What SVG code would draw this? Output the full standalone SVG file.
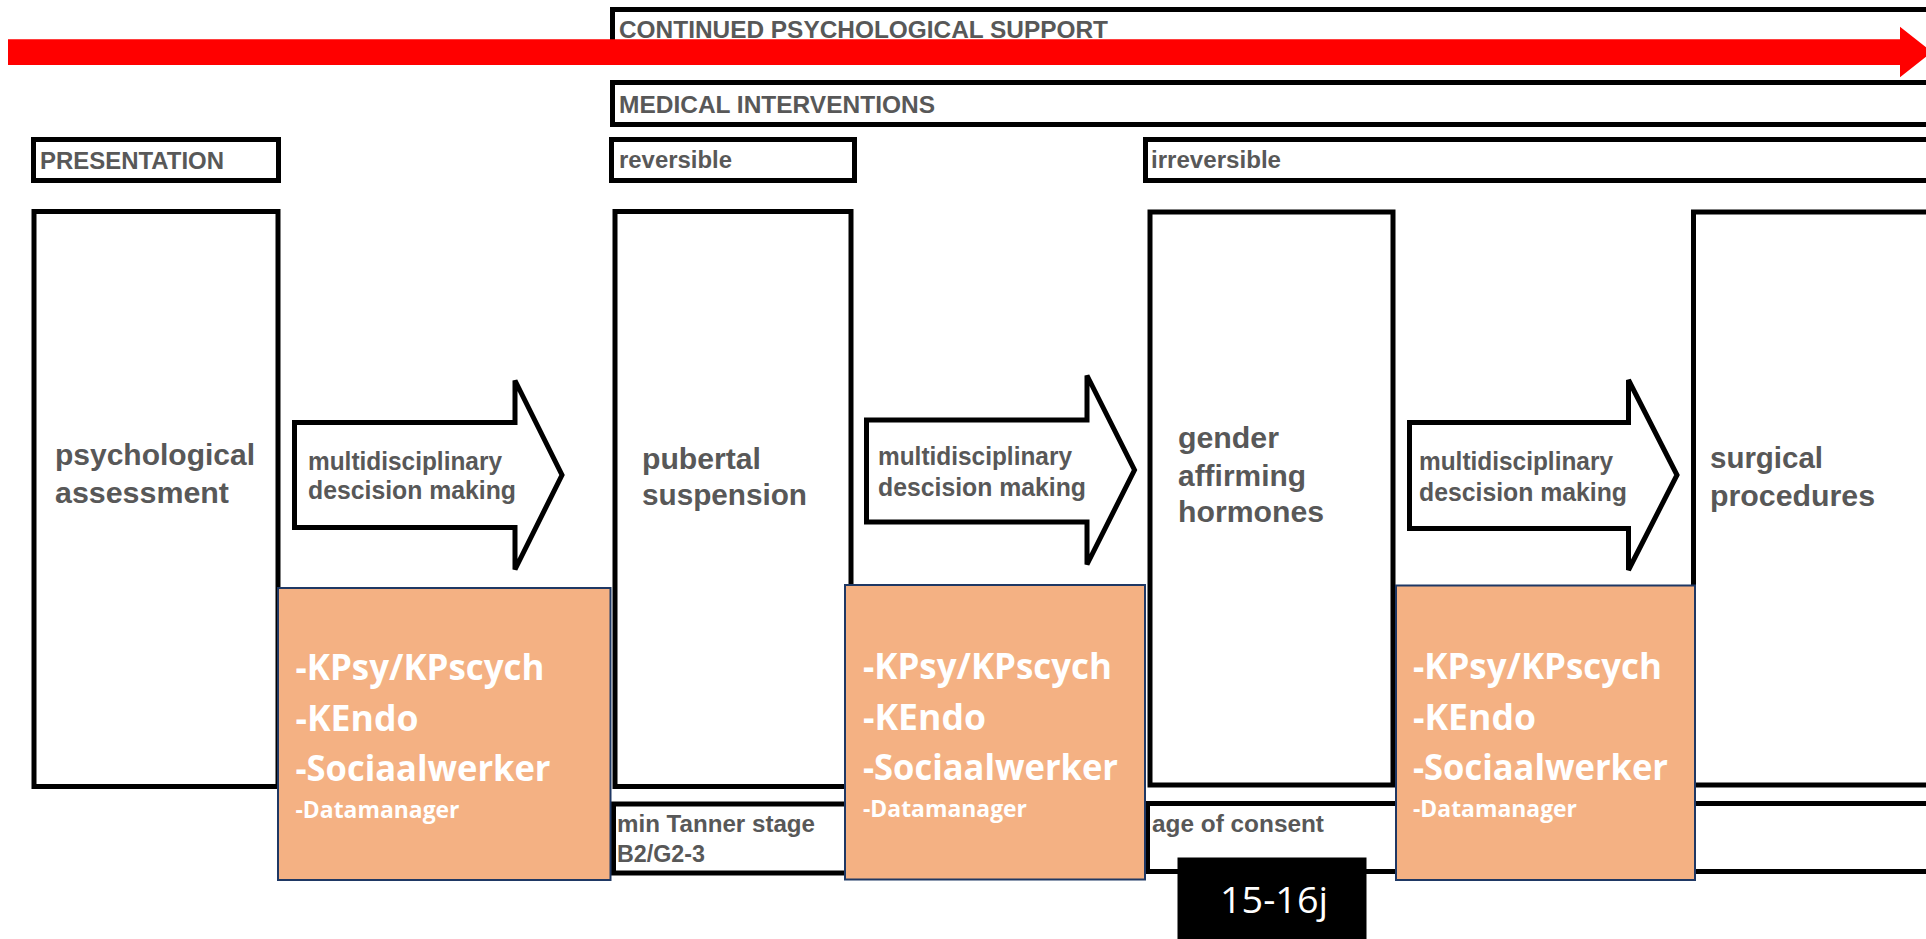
<svg xmlns="http://www.w3.org/2000/svg" width="1926" height="939" viewBox="0 0 1926 939">
<style>
.box{fill:#fff;stroke:#000;stroke-width:5}
.lbl{font-family:"Liberation Sans",Arial,Helvetica,sans-serif;font-weight:bold;fill:#585858}
.top{font-size:23px}
.big{font-size:30px}
.arr{font-size:25px}
.sm{font-size:23px}
.org{fill:#F4B183;stroke:#1F3864;stroke-width:2}
.ot{font-family:"Open Sans","Noto Sans",sans-serif;font-weight:bold;fill:#fff}
.ol{font-size:35px}
.od{font-size:24px}
.blk{fill:#000}
.age{font-family:"Open Sans","Noto Sans",sans-serif;font-size:36px;fill:#fff}
.barrow{fill:#fff;stroke:#000;stroke-width:5;stroke-linejoin:miter}
</style>

<g id="continued-support">
<rect class="box" x="612.5" y="9.5" width="1330" height="44"/>
<text class="lbl top" x="619" y="37.7" textLength="489" lengthAdjust="spacingAndGlyphs">CONTINUED PSYCHOLOGICAL SUPPORT</text>
</g>
<g id="medical-interventions">
<rect class="box" x="612.5" y="82.5" width="1330" height="42"/>
<text class="lbl top" x="619" y="112.7" textLength="316" lengthAdjust="spacingAndGlyphs">MEDICAL INTERVENTIONS</text>
</g>
<g id="presentation">
<rect class="box" x="33.5" y="139.5" width="245" height="41"/>
<text class="lbl top" x="40" y="169" textLength="184" lengthAdjust="spacingAndGlyphs">PRESENTATION</text>
</g>
<g id="reversible">
<rect class="box" x="611.5" y="139.5" width="243" height="41"/>
<text class="lbl top" x="619" y="168" textLength="113" lengthAdjust="spacingAndGlyphs">reversible</text>
</g>
<g id="irreversible">
<rect class="box" x="1145.5" y="139.5" width="800" height="41"/>
<text class="lbl top" x="1151" y="168" textLength="130" lengthAdjust="spacingAndGlyphs">irreversible</text>
</g>

<g id="psychological-assessment">
<rect class="box" x="34" y="211.5" width="244" height="575"/>
<text class="lbl big" x="55" y="464.5" textLength="200" lengthAdjust="spacingAndGlyphs">psychological</text>
<text class="lbl big" x="55" y="502.5" textLength="174" lengthAdjust="spacingAndGlyphs">assessment</text>
</g>
<g id="pubertal-suspension">
<rect class="box" x="615" y="211.5" width="236" height="575"/>
<text class="lbl big" x="642" y="469" textLength="119" lengthAdjust="spacingAndGlyphs">pubertal</text>
<text class="lbl big" x="642" y="505" textLength="165" lengthAdjust="spacingAndGlyphs">suspension</text>
</g>
<g id="gender-affirming-hormones">
<rect class="box" x="1150" y="212" width="243" height="573"/>
<text class="lbl big" x="1178" y="448" textLength="101" lengthAdjust="spacingAndGlyphs">gender</text>
<text class="lbl big" x="1178" y="486" textLength="128" lengthAdjust="spacingAndGlyphs">affirming</text>
<text class="lbl big" x="1178" y="522" textLength="146" lengthAdjust="spacingAndGlyphs">hormones</text>
</g>
<g id="surgical-procedures">
<rect class="box" x="1693.5" y="212" width="260" height="573"/>
<text class="lbl big" x="1710" y="468" textLength="113" lengthAdjust="spacingAndGlyphs">surgical</text>
<text class="lbl big" x="1710" y="505.7" textLength="165" lengthAdjust="spacingAndGlyphs">procedures</text>
</g>

<g id="connectors">
<polygon fill="#FF0000" points="8,39.3 1900,39.3 1900,26.7 1932,52 1900,77.3 1900,65 8,65"/>
<g id="decision-1">
<polygon class="barrow" points="294.5,422.5 515,422.5 515,380.5 562,475 515,569.5 515,527.5 294.5,527.5"/>
<text class="lbl arr" x="308" y="470" textLength="194" lengthAdjust="spacingAndGlyphs">multidisciplinary</text>
<text class="lbl arr" x="308" y="499.3" textLength="208" lengthAdjust="spacingAndGlyphs">descision making</text>
</g>
<g id="decision-2">
<polygon class="barrow" points="866.5,420 1087,420 1087,375.5 1134.5,470 1087,564.5 1087,522 866.5,522"/>
<text class="lbl arr" x="878" y="464.5" textLength="194" lengthAdjust="spacingAndGlyphs">multidisciplinary</text>
<text class="lbl arr" x="878" y="495.8" textLength="208" lengthAdjust="spacingAndGlyphs">descision making</text>
</g>
<g id="decision-3">
<polygon class="barrow" points="1409.5,422.5 1628.5,422.5 1628.5,380 1677,475 1628.5,570 1628.5,528.5 1409.5,528.5"/>
<text class="lbl arr" x="1419" y="469.5" textLength="194" lengthAdjust="spacingAndGlyphs">multidisciplinary</text>
<text class="lbl arr" x="1419" y="500.5" textLength="208" lengthAdjust="spacingAndGlyphs">descision making</text>
</g>
</g>

<g id="min-tanner-stage">
<rect class="box" x="613.5" y="804" width="238" height="69"/>
<text class="lbl sm" x="617" y="831.5" textLength="198" lengthAdjust="spacingAndGlyphs">min Tanner stage</text>
<text class="lbl sm" x="617" y="862" textLength="88" lengthAdjust="spacingAndGlyphs">B2/G2-3</text>
</g>
<g id="age-of-consent">
<rect class="box" x="1147.5" y="803.5" width="800" height="68"/>
<text class="lbl sm" x="1152" y="831.7" textLength="172" lengthAdjust="spacingAndGlyphs">age of consent</text>
</g>

<g id="team-1">
<rect class="org" x="278" y="588" width="332.5" height="292"/>
<text class="ot ol" x="295.5" y="680" textLength="249" lengthAdjust="spacingAndGlyphs">-KPsy/KPscych</text>
<text class="ot ol" x="295.5" y="731" textLength="123" lengthAdjust="spacingAndGlyphs">-KEndo</text>
<text class="ot ol" x="295.5" y="780.5" textLength="255" lengthAdjust="spacingAndGlyphs">-Sociaalwerker</text>
<text class="ot od" x="295.5" y="818" textLength="164" lengthAdjust="spacingAndGlyphs">-Datamanager</text>
</g>
<g id="team-2">
<rect class="org" x="845" y="585" width="300" height="294.5"/>
<text class="ot ol" x="863" y="679" textLength="249" lengthAdjust="spacingAndGlyphs">-KPsy/KPscych</text>
<text class="ot ol" x="863" y="730" textLength="123" lengthAdjust="spacingAndGlyphs">-KEndo</text>
<text class="ot ol" x="863" y="780" textLength="255" lengthAdjust="spacingAndGlyphs">-Sociaalwerker</text>
<text class="ot od" x="863" y="817" textLength="164" lengthAdjust="spacingAndGlyphs">-Datamanager</text>
</g>
<g id="team-3">
<rect class="org" x="1396" y="585.5" width="299" height="294.5"/>
<text class="ot ol" x="1413" y="678.5" textLength="249" lengthAdjust="spacingAndGlyphs">-KPsy/KPscych</text>
<text class="ot ol" x="1413" y="729.5" textLength="123" lengthAdjust="spacingAndGlyphs">-KEndo</text>
<text class="ot ol" x="1413" y="780" textLength="255" lengthAdjust="spacingAndGlyphs">-Sociaalwerker</text>
<text class="ot od" x="1413" y="817" textLength="164" lengthAdjust="spacingAndGlyphs">-Datamanager</text>
</g>

<g id="age-15-16">
<rect class="blk" x="1177.5" y="857.5" width="189" height="82"/>
<text class="age" x="1220" y="912.7" textLength="108" lengthAdjust="spacingAndGlyphs">15-16j</text>
</g>
</svg>
